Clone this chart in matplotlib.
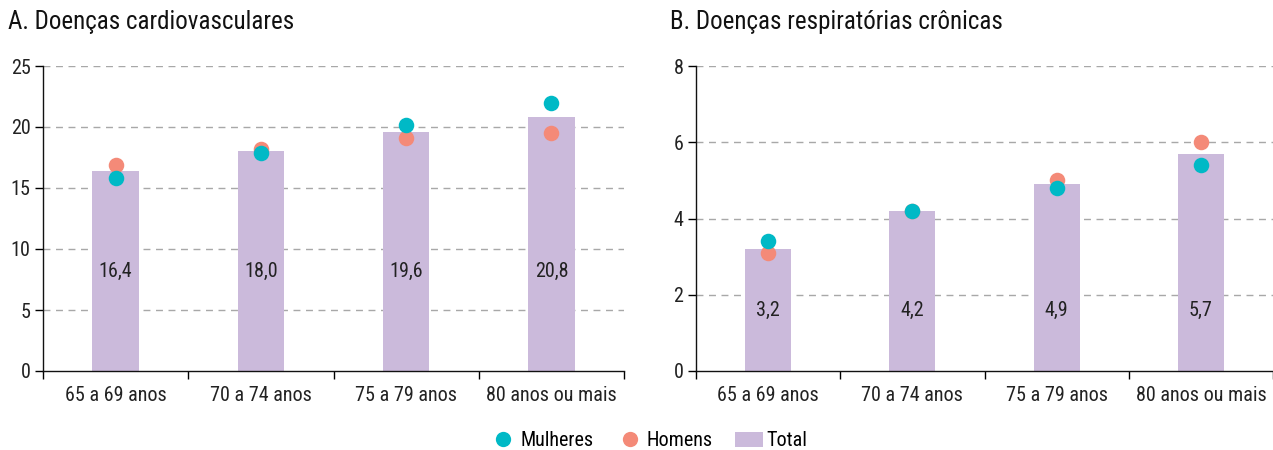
import matplotlib
matplotlib.use("Agg")
import matplotlib.pyplot as plt
from matplotlib.lines import Line2D
from matplotlib.patches import Patch
import numpy as np

plt.rcParams['font.family'] = ['Roboto Condensed', 'Roboto', 'DejaVu Sans']

categories = ["65 a 69 anos", "70 a 74 anos", "75 a 79 anos", "80 anos ou mais"]

cardio_total = [16.4, 18.0, 19.6, 20.8]
cardio_mulheres = [15.8, 17.9, 20.2, 22.0]
cardio_homens = [16.9, 18.2, 19.1, 19.5]
cardio_labels = ["16,4", "18,0", "19,6", "20,8"]

resp_total = [3.2, 4.2, 4.9, 5.7]
resp_mulheres = [3.4, 4.2, 4.8, 5.4]
resp_homens = [3.1, 4.2, 5.0, 6.0]
resp_labels = ["3,2", "4,2", "4,9", "5,7"]

titles = ["A. Doenças cardiovasculares", "B. Doenças respiratórias crônicas"]
legend_labels = ["Mulheres", "Homens", "Total"]

C_M = "#00B9C6"
C_H = "#F48A78"
C_T = "#CBBADB"
FS = 14.5

fig = plt.figure(figsize=(12.73, 4.5), dpi=100)
axA = fig.add_axes([43/1273, 1-371/450, (624-43)/1273, (371-66)/450])
axB = fig.add_axes([696/1273, 1-371/450, (1273-696)/1273, (371-66)/450])

def draw(ax, total, mul, hom, labels, ymax, ystep, xmax):
    x = np.arange(len(categories))
    ax.bar(x, total, width=0.32, color=C_T, zorder=2)
    ax.scatter(x, hom, s=125, color=C_H, zorder=4, linewidths=0)
    ax.scatter(x, mul, s=125, color=C_M, zorder=5, linewidths=0)
    ly = min(total) / 2
    for xi, lab in zip(x, labels):
        ax.text(xi, ly, lab, ha='center', va='center', fontsize=FS, color='#222222', zorder=6)
    ax.set_xlim(-0.5, xmax)
    ax.set_ylim(0, ymax)
    yt = np.arange(0, ymax + 0.01, ystep)
    ax.set_yticks(yt)
    ax.set_yticklabels([f"{int(v)}" for v in yt])
    for v in yt[1:]:
        ax.axhline(v, color='#a8a8a8', lw=1.0, ls=(0, (5, 4)), zorder=1)
    ax.set_xticks(x)
    ax.set_xticklabels(categories)
    ax.set_xticks(np.arange(-0.5, len(categories)), minor=True)
    ax.tick_params(axis='x', which='major', length=0, pad=11, labelsize=FS, labelcolor='#222222')
    ax.tick_params(axis='x', which='minor', length=6, width=1, direction='out')
    ax.tick_params(axis='y', length=6, width=1, labelsize=FS, pad=3, labelcolor='#222222')
    for s in ['top', 'right']:
        ax.spines[s].set_visible(False)
    for s in ['left', 'bottom']:
        ax.spines[s].set_linewidth(1.0)
        ax.spines[s].set_color('#111111')
    ax.spines['left'].set_zorder(7)

draw(axA, cardio_total, cardio_mulheres, cardio_homens, cardio_labels, 25, 5, 3.5)
draw(axB, resp_total, resp_mulheres, resp_homens, resp_labels, 8, 2, 3.45)

fig.text(8/1273, 1-22/450, titles[0], fontsize=18, va='center', ha='left', color='#111111')
fig.text(670/1273, 1-22/450, titles[1], fontsize=18, va='center', ha='left', color='#111111')

handles = [
    Line2D([], [], marker='o', ls='', markersize=11, markerfacecolor=C_M, markeredgewidth=0),
    Line2D([], [], marker='o', ls='', markersize=11, markerfacecolor=C_H, markeredgewidth=0),
    Patch(facecolor=C_T, edgecolor='none'),
]
fig.legend(handles, legend_labels, loc='center', bbox_to_anchor=(648/1273, 1-441/450), ncol=3,
           frameon=False, fontsize=FS, handlelength=1.4, handleheight=0.75,
           handletextpad=0.15, columnspacing=1.1)

fig.savefig("out.png", dpi=100)
